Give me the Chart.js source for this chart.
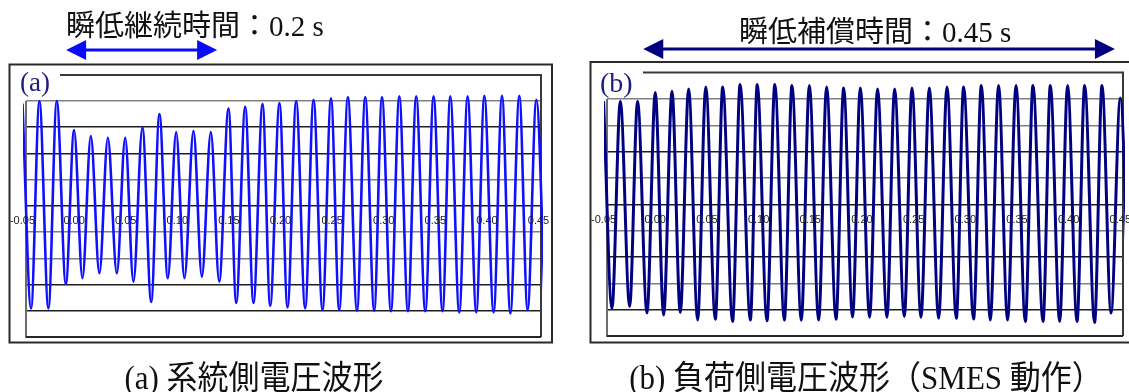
<!DOCTYPE html>
<html>
<head>
<meta charset="utf-8">
<script src="https://cdn.jsdelivr.net/npm/chart.js@4.4.1/dist/chart.umd.min.js"></script>
<style>
  html, body { margin: 0; padding: 0; background: #fff; }
  #wrap { position: relative; width: 1129px; height: 392px; overflow: hidden; }
  canvas { position: absolute; left: 0; top: 0; }
  .txt { position: absolute; white-space: nowrap; line-height: 1;
         font-family: "Liberation Serif", "Noto Sans CJK JP", serif; color: #111;
         transform: translateY(-50%); }
  .cap { transform: translate(-50%, -50%) scaleY(1.06); }
  .tag { color: #1c1c80; }
</style>
</head>
<body>
<div id="wrap">
  <canvas id="chartA" width="1129" height="392"></canvas>
  <canvas id="chartB" width="1129" height="392"></canvas>
  <div class="txt" style="left:66px; top:26px; font-size:29px;">瞬低継続時間：0.2 s</div>
  <div class="txt" style="left:739px; top:32px; font-size:29px;">瞬低補償時間：0.45 s</div>
  <div class="txt tag" style="left:20px; top:82px; font-size:27px;">(a)</div>
  <div class="txt tag" style="left:600px; top:83px; font-size:28px;">(b)</div>
  <div class="txt cap" style="left:254px; top:378px; font-size:31px;">(a) 系統側電圧波形</div>
  <div class="txt cap" style="left:866px; top:378px; font-size:31px;">(b) 負荷側電圧波形（SMES 動作）</div>
</div>
<script>
// Time axis labels (seconds), drawn along the zero line
const tickValues = [-0.05, 0.00, 0.05, 0.10, 0.15, 0.20, 0.25, 0.30, 0.35, 0.40, 0.45];
const tickLabels = ['-0.05', '0.00', '0.05', '0.10', '0.15', '0.20', '0.25', '0.30', '0.35', '0.40', '0.45'];
// Horizontal grid levels (one division = 1 unit)
const gridLevels = [-4.5, -3.5, -2.5, -1.5, -0.5, 0.5, 1.5, 2.5, 3.5, 4.5];

// (a) system-side voltage: successive peaks / troughs of each half cycle
const timesA = [-0.0500, -0.0417, -0.0336, -0.0249, -0.0168, -0.0080, 0.0000, 0.0081, 0.0162, 0.0245,
                0.0327, 0.0414, 0.0495, 0.0575, 0.0662, 0.0747, 0.0827, 0.0908, 0.0989, 0.1069,
                0.1157, 0.1238, 0.1325, 0.1406, 0.1496, 0.1571, 0.1658, 0.1738, 0.1826, 0.1900,
                0.1990, 0.2068, 0.2152, 0.2239, 0.2320, 0.2407, 0.2489, 0.2569, 0.2653, 0.2741,
                0.2821, 0.2908, 0.2983, 0.3070, 0.3151, 0.3235, 0.3315, 0.3403, 0.3483, 0.3570,
                0.3645, 0.3732, 0.3813, 0.3897, 0.3975, 0.4065, 0.4146, 0.4227, 0.4314, 0.4394,
                0.4479, 0.4563];
const voltsA = [4.40, -3.41, 4.50, -3.41, 4.50, -2.48, 3.39, -2.26, 3.16, -2.07,
                3.10, -2.07, 3.10, -2.39, 3.49, -3.16, 4.00, -2.26, 3.32, -2.26,
                3.36, -2.20, 3.32, -2.39, 4.21, -3.20, 4.28, -3.20, 4.38, -3.31,
                4.42, -3.37, 4.50, -3.41, 4.55, -3.47, 4.60, -3.47, 4.65, -3.50,
                4.65, -3.50, 4.65, -3.52, 4.68, -3.52, 4.68, -3.52, 4.68, -3.52,
                4.68, -3.56, 4.68, -3.56, 4.70, -3.56, 4.70, -3.60, 4.70, -3.47,
                4.55, -3.50];

// (b) load-side voltage with SMES compensation
const timesB = [-0.0500, -0.0419, -0.0338, -0.0248, -0.0171, -0.0080, 0.0000, 0.0081, 0.0162, 0.0242,
                0.0323, 0.0410, 0.0489, 0.0581, 0.0653, 0.0748, 0.0821, 0.0920, 0.0987, 0.1081,
                0.1157, 0.1249, 0.1323, 0.1413, 0.1491, 0.1581, 0.1658, 0.1749, 0.1823, 0.1909,
                0.1984, 0.2074, 0.2151, 0.2242, 0.2316, 0.2410, 0.2484, 0.2571, 0.2652, 0.2742,
                0.2823, 0.2913, 0.2984, 0.3080, 0.3155, 0.3242, 0.3322, 0.3409, 0.3491, 0.3581,
                0.3655, 0.3752, 0.3823, 0.3913, 0.3990, 0.4081, 0.4155, 0.4251, 0.4323, 0.4410,
                0.4500, 0.4583];
const voltsB = [4.41, -3.45, 4.41, -3.38, 4.41, -3.63, 4.75, -3.70, 4.79, -3.61,
                4.88, -3.89, 4.96, -3.86, 4.96, -3.95, 5.05, -3.89, 5.05, -3.92,
                5.05, -3.89, 5.01, -3.90, 5.01, -3.89, 4.96, -3.86, 4.92, -3.78,
                4.92, -3.79, 4.88, -3.79, 4.88, -3.76, 4.92, -3.79, 4.92, -3.83,
                4.96, -3.83, 4.96, -3.85, 5.01, -3.89, 5.01, -3.89, 5.01, -3.95,
                5.01, -3.95, 5.01, -3.95, 5.01, -3.95, 5.01, -3.99, 5.01, -3.63,
                4.54, -3.60];

// Span of the annotation arrows above each panel (seconds)
const spanA = [-0.0077, 0.1386];
const spanB = [-0.0116, 0.4448];

const DARK = '#1e1e1e', GREY = '#808080';
const gridColorsA = [DARK, DARK, DARK, GREY, GREY, DARK, GREY, DARK, DARK, GREY];
const gridColorsB = [DARK, DARK, GREY, DARK, GREY, DARK, GREY, DARK, GREY, GREY];

function arrow(ctx, x1, x2, y, color) {
  const head = 20, half = 10;
  ctx.save();
  ctx.fillStyle = color;
  ctx.strokeStyle = color;
  ctx.lineWidth = 3;
  ctx.beginPath();
  ctx.moveTo(x1 + head - 2, y);
  ctx.lineTo(x2 - head + 2, y);
  ctx.stroke();
  ctx.beginPath();
  ctx.moveTo(x1, y); ctx.lineTo(x1 + head, y - half); ctx.lineTo(x1 + head, y + half); ctx.closePath();
  ctx.fill();
  ctx.beginPath();
  ctx.moveTo(x2, y); ctx.lineTo(x2 - head, y - half); ctx.lineTo(x2 - head, y + half); ctx.closePath();
  ctx.fill();
  ctx.restore();
}

// Panel decoration: outer frame, header rule, plot border, time labels and arrow
function panelPlugin(p) {
  return {
    id: 'panel' + p.key,
    beforeDatasetsDraw(chart) {
      const ctx = chart.ctx, a = chart.chartArea;
      ctx.save();
      ctx.strokeStyle = '#2a2a2a';
      ctx.lineWidth = 2;
      ctx.strokeRect(p.outer[0], p.outer[1], p.outer[2] - p.outer[0], p.outer[3] - p.outer[1]);
      ctx.strokeStyle = '#3a3a3a';
      ctx.beginPath();
      ctx.moveTo(p.ruleX, p.ruleY);
      ctx.lineTo(a.right, p.ruleY);
      ctx.lineTo(a.right, a.bottom);
      ctx.stroke();
      ctx.strokeStyle = '#6e6e6e';
      ctx.beginPath();
      ctx.moveTo(a.left, a.top);
      ctx.lineTo(a.left, a.bottom + 1);
      ctx.stroke();
      ctx.strokeStyle = '#262626';
      ctx.beginPath();
      ctx.moveTo(a.left, a.bottom);
      ctx.lineTo(a.right, a.bottom);
      ctx.stroke();
      ctx.restore();
    },
    afterDatasetsDraw(chart) {
      const ctx = chart.ctx;
      const xs = chart.scales.x, ys = chart.scales.y;
      const y0 = ys.getPixelForValue(0) + 2;
      ctx.save();
      ctx.font = '11px "Liberation Sans", Arial, sans-serif';
      ctx.fillStyle = '#222';
      ctx.textAlign = 'center';
      ctx.textBaseline = 'middle';
      tickValues.forEach((v, i) => ctx.fillText(tickLabels[i], xs.getPixelForValue(v), y0));
      ctx.restore();
      arrow(ctx, xs.getPixelForValue(p.span[0]), xs.getPixelForValue(p.span[1]), p.arrowY, p.arrowColor);
    }
  };
}

function makeChart(id, times, volts, color, width, gridColors, pad, xRange, p) {
  const pts = times.map((t, i) => ({ x: t, y: volts[i] }));
  return new Chart(document.getElementById(id), {
    type: 'line',
    data: {
      datasets: [{
        data: pts,
        borderColor: color,
        borderWidth: width,
        pointRadius: 0,
        fill: false,
        cubicInterpolationMode: 'monotone',
        clip: { left: 3, right: 2, top: false, bottom: false }
      }]
    },
    options: {
      responsive: false,
      animation: false,
      events: [],
      layout: { padding: pad },
      plugins: { legend: { display: false }, tooltip: { enabled: false } },
      scales: {
        x: { type: 'linear', min: xRange[0], max: xRange[1], display: false },
        y: {
          type: 'linear', min: -4.5, max: 4.5, display: true,
          afterBuildTicks: s => { s.ticks = gridLevels.map(v => ({ value: v })); },
          ticks: { display: false },
          grid: { color: c => gridColors[c.index], lineWidth: 1.6, drawTicks: false },
          border: { display: false }
        }
      }
    },
    plugins: [panelPlugin(p)]
  });
}

makeChart('chartA', timesA, voltsA, '#1010ff', 2.6, gridColorsA,
  { left: 26, top: 101, right: 588, bottom: 55 }, [-0.0466, 0.4524],
  { key: 'A', outer: [9.5, 64.5, 552, 342.5], ruleX: 60, ruleY: 75, span: spanA, arrowY: 50, arrowColor: '#0a0aff' });

makeChart('chartB', timesB, voltsB, '#000080', 3, gridColorsB,
  { left: 607, top: 99, right: 6, bottom: 56 }, [-0.0467, 0.4526],
  { key: 'B', outer: [590.5, 62, 1135, 342.5], ruleX: 643, ruleY: 72.5, span: spanB, arrowY: 49, arrowColor: '#000080' });
</script>
</body>
</html>
